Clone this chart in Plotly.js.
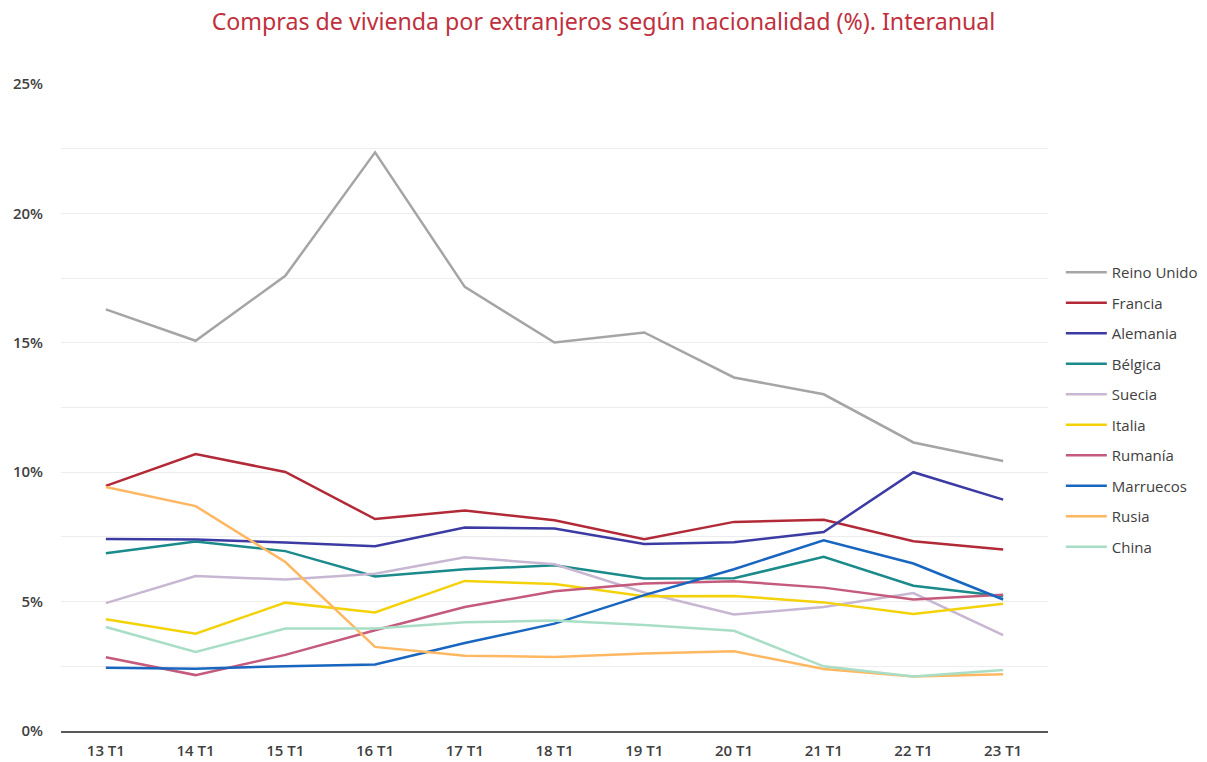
<!DOCTYPE html>
<html>
<head>
<meta charset="utf-8">
<script src="https://cdn.plot.ly/plotly-3.0.1.min.js"></script>
<style>html,body{margin:0;padding:0;background:#fff}#chart{width:1207px;height:762px}</style>
</head>
<body>
<div id="chart"></div>
<script>
const categories = ["13 T1","14 T1","15 T1","16 T1","17 T1","18 T1","19 T1","20 T1","21 T1","22 T1","23 T1"];
const seriesNames = ["Reino Unido","Francia","Alemania","Bélgica","Suecia","Italia","Rumanía","Marruecos","Rusia","China"];
const reinoUnido = [16.29,15.08,17.59,22.36,17.16,15.01,15.40,13.66,13.01,11.15,10.43];
const francia    = [9.47,10.70,10.01,8.19,8.52,8.14,7.41,8.08,8.16,7.33,7.01];
const alemania   = [7.42,7.40,7.28,7.14,7.86,7.82,7.23,7.29,7.69,10.00,8.94];
const belgica    = [6.87,7.32,6.95,5.97,6.25,6.40,5.89,5.90,6.73,5.61,5.21];
const suecia     = [4.94,5.99,5.85,6.08,6.71,6.44,5.35,4.50,4.79,5.33,3.70];
const italia     = [4.32,3.76,4.96,4.58,5.80,5.68,5.21,5.22,4.97,4.52,4.92];
const rumania    = [2.85,2.16,2.94,3.89,4.79,5.40,5.70,5.79,5.54,5.08,5.26];
const marruecos  = [2.44,2.41,2.50,2.57,3.40,4.15,5.25,6.25,7.37,6.47,5.08];
const rusia      = [9.43,8.69,6.53,3.25,2.91,2.86,2.99,3.08,2.40,2.11,2.19];
const china      = [4.02,3.05,3.96,3.96,4.20,4.27,4.10,3.87,2.50,2.11,2.36];
const seriesValues = [reinoUnido,francia,alemania,belgica,suecia,italia,rumania,marruecos,rusia,china];
const colors = ["#A5A5A5","#B22A38","#3B3BA3","#1A8A8A","#C7B7D2","#F4D20A","#C55B7C","#1866BF","#FFB861","#A9DEC6"];

const traces = seriesNames.map((name,i)=>({
  type:"scatter", mode:"lines", name:name, x:categories, y:seriesValues[i],
  line:{color:colors[i], width:2.5}, legendgroup:"g"+i, hoverinfo:"x+y+name"
}));

const tickFont = {size:15, color:"#404040", family:"Open Sans, Liberation Sans, sans-serif", weight:600};

const layout = {
  width:1207, height:762,
  paper_bgcolor:"#fff", plot_bgcolor:"#fff",
  margin:{l:61, r:159, t:84, b:31, autoexpand:false},
  font:{family:"Open Sans, Liberation Sans, sans-serif", color:"#404040"},
  title:{text:"Compras de vivienda por extranjeros según nacionalidad (%). Interanual",
    font:{family:"Noto Sans, Open Sans, sans-serif", size:23.2, color:"#C0303E"},
    x:0.5, xref:"container", xanchor:"center", y:0.971, yref:"container", yanchor:"middle"},
  xaxis:{type:"category", showgrid:false, showline:true, linecolor:"#595959", linewidth:1.5,
    ticks:"", tickfont:tickFont, ticklabelstandoff:5, automargin:false,
    range:[-0.5,10.5], fixedrange:true, zeroline:false},
  yaxis:{range:[0,25], dtick:5, tick0:0, ticksuffix:"%", showgrid:true, gridcolor:"#EDEDED", gridwidth:1,
    minor:{dtick:2.5, showgrid:true, gridcolor:"#EDEDED", gridwidth:1}, automargin:false,
    zeroline:false, showline:false, ticks:"", ticklabelstandoff:17,
    tickfont:tickFont},
  legend:{x:1.013, xanchor:"left", xref:"paper", y:0.734, yanchor:"top",
    font:{size:15, color:"#404040", family:"Open Sans, Liberation Sans, sans-serif"},
    tracegroupgap:8, bgcolor:"rgba(0,0,0,0)", itemwidth:41},
  showlegend:true
};
Plotly.newPlot("chart", traces, layout, {displayModeBar:false, staticPlot:true});
</script>
</body>
</html>
